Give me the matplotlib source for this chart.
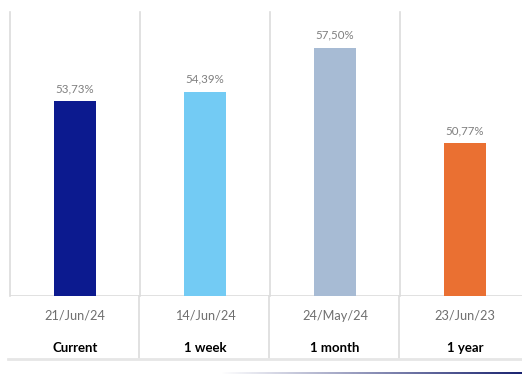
import numpy as np
import matplotlib
matplotlib.use("Agg")
import matplotlib.pyplot as plt
from matplotlib.lines import Line2D
from matplotlib.colors import LinearSegmentedColormap

periods = ["Current", "1 week", "1 month", "1 year"]
dates = ["21/Jun/24", "14/Jun/24", "24/May/24", "23/Jun/23"]
values = [53.73, 54.39, 57.50, 50.77]
colors = ["#0c1a8f", "#73cbf4", "#a7bbd4", "#ea7032"]

plt.rcParams["font.family"] = ["Lato", "DejaVu Sans"]

W, H = 522, 374
fig = plt.figure(figsize=(W / 100, H / 100), dpi=100)

# plot area in pixels: x 10..530, y 12..296
ax = fig.add_axes([10 / W, (H - 296) / H, 520 / W, 284 / H])
x = np.arange(len(values))
ax.bar(x, values, width=0.32, color=colors, zorder=3)
ax.set_xlim(-0.5, len(values) - 0.5)
ax.set_ylim(40, 60)

for xi, v in zip(x, values):
    ax.annotate(f"{v:.2f}%".replace(".", ","), (xi, v), xytext=(0, 5),
                textcoords="offset points", ha="center", va="bottom",
                fontsize=8.3, color="#7f7f7f")

grid_c = "#dcdcdc"
trans = ax.get_xaxis_transform()
# separators in plot area
for xs in np.arange(-0.5, len(values) - 0.5):
    ax.plot([xs, xs], [0, 1], transform=trans, color=grid_c, lw=1.2,
            clip_on=False, zorder=1)
# separators in label area
for xs in np.arange(0.5, len(values) - 0.5):
    ax.plot([xs - 0.008, xs - 0.008], [-0.218, 0], transform=trans,
            color=grid_c, lw=1.2, clip_on=False)
ax.axhline(40, color=grid_c, lw=1.2, zorder=2)

for xi, d, p in zip(x, dates, periods):
    ax.text(xi, -0.07, d, transform=trans, ha="center", va="center",
            fontsize=9.2, color="#6f6f6f")
    ax.text(xi, -0.183, p, transform=trans, ha="center", va="center",
            fontsize=9.5, color="black", fontweight="bold")

for s in ax.spines.values():
    s.set_visible(False)
ax.set_xticks([])
ax.set_yticks([])

# bottom rule
fig.add_artist(Line2D([8 / W, 1], [(H - 359) / H] * 2, color="#e6e6e6", lw=2))

# gradient decoration at the bottom
gax = fig.add_axes([220 / W, (H - 374) / H, 302 / W, 2.5 / H])
cmap = LinearSegmentedColormap.from_list("g", ["#ffffff", "#1b2470"])
gax.imshow(np.linspace(0, 1, 300).reshape(1, -1), aspect="auto", cmap=cmap)
gax.axis("off")

fig.savefig("out.png", dpi=100)
